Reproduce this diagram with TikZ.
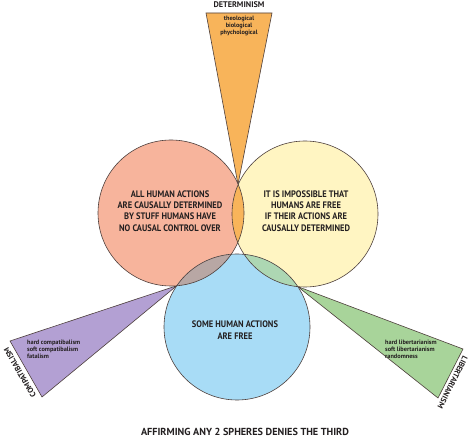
\documentclass[tikz,border=0pt]{standalone}
\usepackage{fontspec}
\setmainfont{PT Sans}
\newfontfamily\condfont[FakeStretch=0.9]{PT Sans}
\definecolor{salmon}{HTML}{F7B49C}
\definecolor{paleyellow}{HTML}{FFF5C2}
\definecolor{skyblue}{HTML}{A8DCF6}
\definecolor{detorange}{HTML}{F8B45A}
\definecolor{compurple}{HTML}{B3A0D3}
\definecolor{libgreen}{HTML}{A8D49A}
\definecolor{lbmix}{HTML}{B8A7A4}
\definecolor{rbmix}{HTML}{ADD7B3}
\definecolor{edgec}{HTML}{4D3F3C}
\definecolor{textc}{HTML}{231F20}
\tikzset{
  outl/.style={draw=edgec, line width=0.6pt},
  maintext/.style={font=\condfont\bfseries\fontsize{9.4}{11.4}\selectfont, align=center, text=textc, inner sep=0pt},
  smalltext/.style={font=\bfseries\fontsize{6.3}{7}\selectfont, text=textc, inner sep=0pt},
  schoollabel/.style={font=\bfseries\fontsize{8.2}{9}\selectfont, text=textc, inner sep=0pt},
}
\begin{document}
\begin{tikzpicture}[x=1pt,y=-1pt]
\fill[white] (0,0) rectangle (474,438);
\useasboundingbox (0,0) rectangle (474,438);
% circle centres and apex points
\coordinate (L) at (171,213);
\coordinate (R) at (305,214);
\coordinate (B) at (237,327);
\coordinate (apexD) at (238,184.5);
\coordinate (apexC) at (176.8,285.7);
\coordinate (apexL) at (297.7,286.6);
\coordinate (d1) at (206,13);
\coordinate (d2) at (272,13);
\coordinate (c1) at (10,341);
\coordinate (c2) at (42,397);
\coordinate (l1) at (463,349);
\coordinate (l2) at (438,398);
% funnels
\filldraw[fill=detorange, outl] (d1) -- (d2) -- (apexD) -- cycle;
\filldraw[fill=compurple, outl] (c1) -- (apexC) -- (c2) -- cycle;
\filldraw[fill=libgreen, outl] (l1) -- (apexL) -- (l2) -- cycle;
% circles
\fill[salmon] (L) circle[radius=73pt];
\fill[paleyellow] (R) circle[radius=73pt];
\fill[skyblue] (B) circle[radius=73pt];
\begin{scope}
  \clip (L) circle[radius=73pt];
  \fill[detorange] (R) circle[radius=73pt];
  \fill[lbmix] (B) circle[radius=73pt];
\end{scope}
\begin{scope}
  \clip (R) circle[radius=73pt];
  \fill[rbmix] (B) circle[radius=73pt];
\end{scope}
\draw[outl] (L) circle[radius=73pt];
\draw[outl] (R) circle[radius=73pt];
\draw[outl] (B) circle[radius=73pt];
% circle texts
\node[maintext] (tL) at (170,211) {ALL HUMAN ACTIONS\\ARE CAUSALLY DETERMINED\\BY STUFF HUMANS HAVE\\NO CAUSAL CONTROL OVER};
\node[maintext] (tR) at (306,211) {IT IS IMPOSSIBLE THAT\\HUMANS ARE FREE\\IF THEIR ACTIONS ARE\\CAUSALLY DETERMINED};
\node[maintext] (tB) at (235,330) {SOME HUMAN ACTIONS\\ARE FREE};
% funnel labels
\node[schoollabel] (det) at (239,5) {DETERMINISM};
\node[smalltext, align=center, anchor=north] (detlist) at (239,16) {theological\\biological\\phychological};
\node[schoollabel, font=\bfseries\fontsize{7.8}{9}\selectfont, rotate=120, anchor=south] (comp) at (22.5,371) {COMPATIBALISM};
\node[smalltext, align=left, anchor=north west] (complist) at (27,339.5) {hard compatibalism\\soft compatibalism\\fatalism};
\node[schoollabel, font=\bfseries\fontsize{7.8}{9}\selectfont, rotate=-117, anchor=south] (lib) at (450,381) {LIBERTARIANISM};
\node[smalltext, align=left, anchor=north west] (liblist) at (385,339.5) {hard libertarianism\\soft libertarianism\\randomness};
% caption
\node[schoollabel, font=\bfseries\fontsize{10.2}{11}\selectfont] (cap) at (245,432) {AFFIRMING ANY 2 SPHERES DENIES THE THIRD};
\end{tikzpicture}
\end{document}
